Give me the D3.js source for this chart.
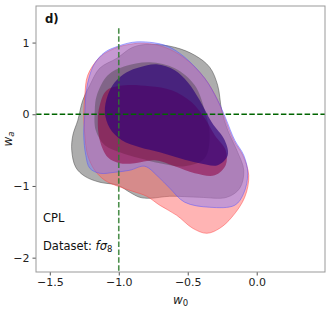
<!DOCTYPE html>
<html>
<head>
<meta charset="utf-8">
<script src="https://cdn.jsdelivr.net/npm/d3@7"></script>
<style>
  body { margin: 0; background: #fff; }
  text { font-family: "DejaVu Sans", sans-serif; }
</style>
</head>
<body>
<div id="chart"></div>
<script>
// contour outlines, [w0, wa]
const grayOuter = [[-0.775,0.976],[-0.594,0.934],[-0.449,0.823],[-0.341,0.656],[-0.283,0.404],[-0.254,0.056],[-0.210,-0.223],[-0.138,-0.530],[-0.094,-0.781],[-0.123,-1.032],[-0.217,-1.158],[-0.413,-1.158],[-0.630,-1.144],[-0.775,-1.172],[-0.848,-1.158],[-0.920,-1.088],[-1.007,-0.990],[-1.138,-0.948],[-1.246,-0.865],[-1.312,-0.739],[-1.341,-0.502],[-1.333,-0.293],[-1.297,-0.084],[-1.261,0.195],[-1.210,0.404],[-1.138,0.642],[-1.014,0.781],[-0.899,0.934]];
const grayInner = [[-1.159,0.265],[-1.080,0.544],[-0.957,0.669],[-0.775,0.725],[-0.594,0.642],[-0.449,0.404],[-0.377,0.056],[-0.341,-0.293],[-0.377,-0.614],[-0.522,-0.725],[-0.703,-0.683],[-0.848,-0.614],[-0.993,-0.530],[-1.101,-0.432],[-1.167,-0.223],[-1.174,0.056]];
const redOuter = [[-1.225,0.544],[-1.138,0.795],[-1.029,0.920],[-0.920,0.976],[-0.812,0.990],[-0.667,0.934],[-0.522,0.781],[-0.377,0.502],[-0.283,0.195],[-0.232,-0.056],[-0.167,-0.363],[-0.101,-0.572],[-0.058,-0.851],[-0.087,-1.158],[-0.181,-1.437],[-0.268,-1.590],[-0.362,-1.660],[-0.464,-1.590],[-0.580,-1.409],[-0.703,-1.269],[-0.797,-1.144],[-0.899,-1.074],[-1.007,-1.004],[-1.101,-0.921],[-1.174,-0.781],[-1.225,-0.572],[-1.246,-0.293],[-1.254,0],[-1.246,0.265]];
const redInner = [[-1.138,0.126],[-1.087,0.335],[-0.957,0.404],[-0.775,0.391],[-0.616,0.335],[-0.471,0.167],[-0.377,-0.056],[-0.304,-0.293],[-0.225,-0.502],[-0.225,-0.711],[-0.304,-0.851],[-0.449,-0.823],[-0.594,-0.725],[-0.739,-0.642],[-0.884,-0.683],[-0.993,-0.683],[-1.080,-0.600],[-1.138,-0.363],[-1.152,-0.084]];
const blueOuter = [[-0.899,1.004],[-0.775,1.004],[-0.645,0.948],[-0.522,0.795],[-0.377,0.502],[-0.283,0.195],[-0.225,-0.056],[-0.159,-0.363],[-0.094,-0.572],[-0.065,-0.823],[-0.094,-1.102],[-0.159,-1.269],[-0.341,-1.297],[-0.522,-1.227],[-0.630,-1.032],[-0.717,-0.865],[-0.812,-0.725],[-0.920,-0.781],[-1.029,-0.809],[-1.138,-0.823],[-1.210,-0.753],[-1.239,-0.572],[-1.254,-0.293],[-1.246,0],[-1.239,0.265],[-1.217,0.502],[-1.174,0.711],[-1.101,0.865],[-1.007,0.948]];
const blueInner = [[-1.080,0.265],[-1.029,0.446],[-0.942,0.586],[-0.848,0.656],[-0.725,0.697],[-0.594,0.614],[-0.500,0.446],[-0.413,0.195],[-0.326,-0.112],[-0.232,-0.363],[-0.210,-0.572],[-0.283,-0.711],[-0.413,-0.683],[-0.558,-0.614],[-0.703,-0.530],[-0.848,-0.460],[-0.978,-0.363],[-1.065,-0.195],[-1.101,0.028]];

const xTicks = [-1.5, -1.0, -0.5, 0.0];
const yTicks = [-2, -1, 0, 1];
const fiducial = { w0: -1, wa: 0 };

// outer (95%) levels first, inner (68%) levels on top
const layers = [
  { pts: grayOuter, fill: "#7a7a7a", op: 0.62, stroke: "#404040" },
  { pts: redOuter, fill: "#ff6a6a", op: 0.5, stroke: "#ff4040" },
  { pts: blueOuter, fill: "#7070ff", op: 0.4, stroke: "#5050ff" },
  { pts: grayInner, fill: "#3a3a3a", op: 0.38, stroke: "none" },
  { pts: redInner, fill: "#900040", op: 0.55, stroke: "none" },
  { pts: blueInner, fill: "#2a0078", op: 0.65, stroke: "none" }
];

const margin = { top: 6, right: 5, bottom: 42, left: 36 },
  width = 330 - margin.left - margin.right,
  height = 314 - margin.top - margin.bottom;

const x = d3.scaleLinear().domain([-1.6, 0.495]).range([0, width]);
const y = d3.scaleLinear().domain([-2.2, 1.51]).range([height, 0]);

const svg = d3
  .select("#chart")
  .append("svg")
  .attr("width", 330)
  .attr("height", 314)
  .append("g")
  .attr("transform", "translate(" + margin.left + "," + margin.top + ")");

svg.append("clipPath").attr("id", "clip")
  .append("rect").attr("width", width).attr("height", height);

const line = d3.line()
  .x((d) => x(d[0]))
  .y((d) => y(d[1]))
  .curve(d3.curveCatmullRomClosed.alpha(0.5));

const plot = svg.append("g").attr("clip-path", "url(#clip)");

plot.selectAll(".contour")
  .data(layers)
  .enter()
  .append("path")
  .attr("class", "contour")
  .attr("d", (d) => line(d.pts))
  .attr("fill", (d) => d.fill)
  .attr("fill-opacity", (d) => d.op)
  .attr("stroke", (d) => d.stroke)
  .attr("stroke-opacity", 0.6)
  .attr("stroke-width", 0.8);

// fiducial lines
plot.append("line")
  .attr("x1", 0).attr("x2", width)
  .attr("y1", y(fiducial.wa)).attr("y2", y(fiducial.wa))
  .attr("stroke", "#006400")
  .attr("stroke-width", 1.6)
  .attr("stroke-dasharray", "5.5,2.4");

plot.append("line")
  .attr("x1", x(fiducial.w0)).attr("x2", x(fiducial.w0))
  .attr("y1", y(1.2)).attr("y2", height)
  .attr("stroke", "#2e7d2e")
  .attr("stroke-opacity", 0.85)
  .attr("stroke-width", 1.6)
  .attr("stroke-dasharray", "5.5,2.4");

// axes
const xAxis = svg.append("g")
  .attr("transform", "translate(0," + height + ")")
  .call(d3.axisBottom(x).tickValues(xTicks).tickFormat((d) => d3.format(".1f")(d).replace("-", "\u2212")).tickSize(3.5).tickPadding(3));
const yAxis = svg.append("g")
  .call(d3.axisLeft(y).tickValues(yTicks).tickFormat((d) => String(d).replace("-", "\u2212")).tickSize(3.5).tickPadding(3));

[xAxis, yAxis].forEach((a) => {
  a.select(".domain").remove();
  a.selectAll("line").attr("stroke", "#555");
  a.selectAll("text").attr("font-size", 11).attr("fill", "#222")
    .style("font-family", "DejaVu Sans");
});

svg.append("rect")
  .attr("width", width).attr("height", height)
  .attr("fill", "none").attr("stroke", "#999").attr("stroke-width", 1);

// labels
svg.append("text")
  .attr("x", width / 2).attr("y", height + 32)
  .attr("text-anchor", "middle").attr("font-size", 12).attr("fill", "#222")
  .html('<tspan font-style="italic">w</tspan><tspan font-size="8.5" dy="2">0</tspan>');

svg.append("text")
  .attr("transform", "translate(" + (-24) + "," + (height / 2) + ") rotate(-90)")
  .attr("text-anchor", "middle").attr("font-size", 12).attr("fill", "#222")
  .html('<tspan font-style="italic">w</tspan><tspan font-size="8.5" dy="2" font-style="italic">a</tspan>');

svg.append("text")
  .attr("x", 9).attr("y", 17)
  .attr("font-size", 13).attr("font-weight", "bold").attr("fill", "#111")
  .style("font-family", "DejaVu Sans Condensed, DejaVu Sans")
  .style("font-stretch", "condensed")
  .text("d)");

svg.append("text")
  .attr("x", 7).attr("y", 216)
  .attr("font-size", 11.5).attr("fill", "#111")
  .text("CPL");

svg.append("text")
  .attr("x", 7).attr("y", 244)
  .attr("font-size", 11.5).attr("fill", "#111")
  .html('Dataset: <tspan font-style="italic">f</tspan><tspan font-style="italic">σ</tspan><tspan font-size="8.5" dy="2">8</tspan>');
</script>
</body>
</html>
